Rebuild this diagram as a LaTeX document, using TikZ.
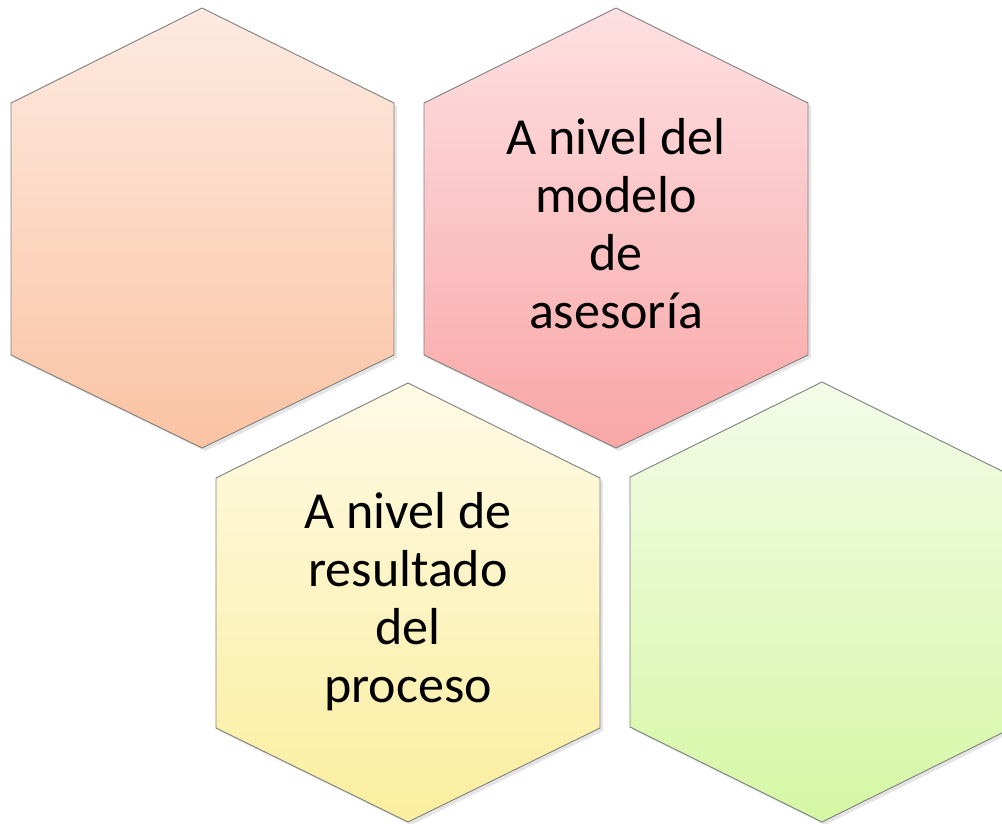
\documentclass[tikz,border=0pt]{standalone}
\usepackage{fontspec}
\setmainfont{Carlito}
\definecolor{hexline}{HTML}{7F7F7F}
\definecolor{salmontop}{HTML}{FDEAE0}
\definecolor{salmonbot}{HTML}{FBC3A3}
\definecolor{rosetop}{HTML}{FDE0E2}
\definecolor{rosebot}{HTML}{F9A6A6}
\definecolor{creamtop}{HTML}{FEFAE6}
\definecolor{creambot}{HTML}{FBEE9E}
\definecolor{limetop}{HTML}{F4FBE8}
\definecolor{limebot}{HTML}{D5F7A4}
\tikzset{
  hexa/.style={draw=hexline, line width=0.9pt, line join=round},
  hexshadow/.style={fill=black, opacity=0.10},
  hextext/.style={align=center, inner sep=0pt, text=black,
    font=\fontsize{52}{58}\selectfont}
}
\begin{document}
\begin{tikzpicture}[x=1pt,y=-1pt]
		\clip (0,0) rectangle (1002,824);
		
		% shadows
		\fill[hexshadow](205,11)--(14,106)--(14,358)--(205,451)--(397,358)--(397,106)--cycle;
		\fill[hexshadow](619,11)--(427,106)--(427,358)--(619,451)--(811,358)--(811,106)--cycle;
		\fill[hexshadow](411,386)--(219,481)--(219,731)--(411,825)--(603,731)--(603,481)--cycle;
		\fill[hexshadow](825,385)--(633,480)--(633,730)--(825,825)--(1017,730)--(1017,480)--cycle;
		
		% hexagons
		\shade[hexa, top color=salmontop, bottom color=salmonbot]
		(202,8)--(11,103)--(11,355)--(202,448)--(394,355)--(394,103)--cycle;
		\shade[hexa, top color=rosetop, bottom color=rosebot]
		(616,8)--(424,103)--(424,355)--(616,448)--(808,355)--(808,103)--cycle;
		\shade[hexa, top color=creamtop, bottom color=creambot]
		(408,383)--(216,478)--(216,728)--(408,822)--(600,728)--(600,478)--cycle;
		\shade[hexa, top color=limetop, bottom color=limebot]
		(822,382)--(630,477)--(630,727)--(822,822)--(1014,727)--(1014,477)--cycle;
		
		% texts
		\node[hextext] (modelo) at (616,224) {A nivel del\\modelo\\de\\asesoría};
		\node[hextext] (proceso) at (408,602) {A nivel de\\resultado\\del\\proceso};
		\end{tikzpicture}
\end{document}
